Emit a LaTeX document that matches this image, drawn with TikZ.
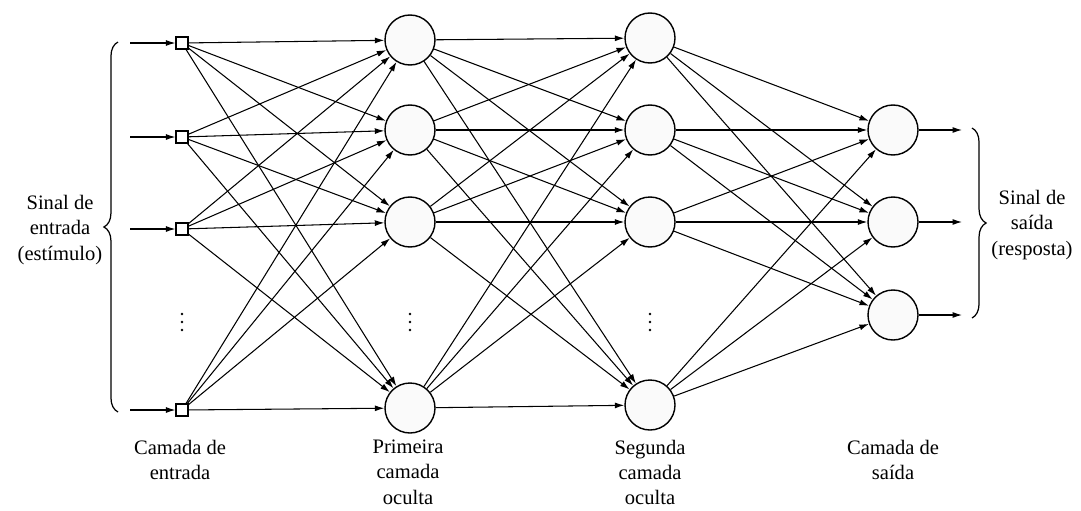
\documentclass[tikz,border=0pt]{standalone}
\usepackage{fontspec}
\setmainfont{Liberation Serif}
\usetikzlibrary{arrows.meta,decorations.pathreplacing}

\begin{document}
\begin{tikzpicture}[
        x=0.2mm, y=-0.2mm,
        font=\fontsize{11.7}{14.3}\selectfont,
        >={Latex[length=1.9mm,width=1.2mm]},
        inbox/.style={draw, rectangle, line width=0.7pt, minimum size=2.4mm, inner sep=0pt, fill=white},
        neuron/.style={draw, circle, line width=0.8pt, minimum size=10mm, inner sep=0pt, fill=gray!4},
        link/.style={->, line width=0.6pt},
        bracestyle/.style={decorate, decoration={brace, amplitude=8pt}, line width=0.7pt},
        layerlabel/.style={align=center, anchor=north}
    ]
    \useasboundingbox (0,0) rectangle (1081,510);

    % Input layer
    \node[inbox] (i1) at (182,43) {};
    \node[inbox] (i2) at (182,137) {};
    \node[inbox] (i3) at (182,229) {};
    \node[inbox] (i4) at (182,410) {};

    % First hidden layer
    \node[neuron] (h1) at (410,40) {};
    \node[neuron] (h2) at (410,130) {};
    \node[neuron] (h3) at (410,222) {};
    \node[neuron] (h4) at (410,408) {};

    % Second hidden layer
    \node[neuron] (g1) at (650,38) {};
    \node[neuron] (g2) at (650,130) {};
    \node[neuron] (g3) at (650,222) {};
    \node[neuron] (g4) at (650,405) {};

    % Output layer
    \node[neuron] (o1) at (893,130) {};
    \node[neuron] (o2) at (893,222) {};
    \node[neuron] (o3) at (893,315) {};

    % Vertical dots
    \foreach \xx in {182,410,650} {
        \foreach \yy in {314,322,330} {\fill (\xx,\yy) circle (0.75pt);}
    }

    % Free ends of the signals
    \coordinate (s1) at (130,43);
    \coordinate (s2) at (130,137);
    \coordinate (s3) at (130,229);
    \coordinate (s4) at (130,410);
    \coordinate (r1) at (962,130);
    \coordinate (r2) at (962,222);
    \coordinate (r3) at (962,315);

    % Signals in and out
    \foreach \k in {1,...,4} {\draw[link] (s\k) -- (i\k.west);}
    \foreach \k in {1,...,3} {\draw[link] (o\k.east) -- (r\k);}

    % Full connections between layers
    \foreach \a in {1,...,4} {
        \foreach \b in {1,...,4} {
            \draw[link] (i\a) -- (h\b);
            \draw[link] (h\a) -- (g\b);
        }
        \foreach \b in {1,...,3} {
            \draw[link] (g\a) -- (o\b);
        }
    }

    % Braces
    \draw[bracestyle] (118,412) -- (118,42);
    \draw[bracestyle] (972,128) -- (972,318);

    % Labels
    \node[align=center] at (60,230) {Sinal de\\entrada\\(estímulo)};
    \node[align=center] at (1032,225) {Sinal de\\saída\\(resposta)};
    \node[layerlabel] at (180,434) {Camada de\\entrada};
    \node[layerlabel] at (408,434) {Primeira\\camada\\oculta};
    \node[layerlabel] at (650,434) {Segunda\\camada\\oculta};
    \node[layerlabel] at (893,434) {Camada de\\saída};

\end{tikzpicture}
\end{document}
